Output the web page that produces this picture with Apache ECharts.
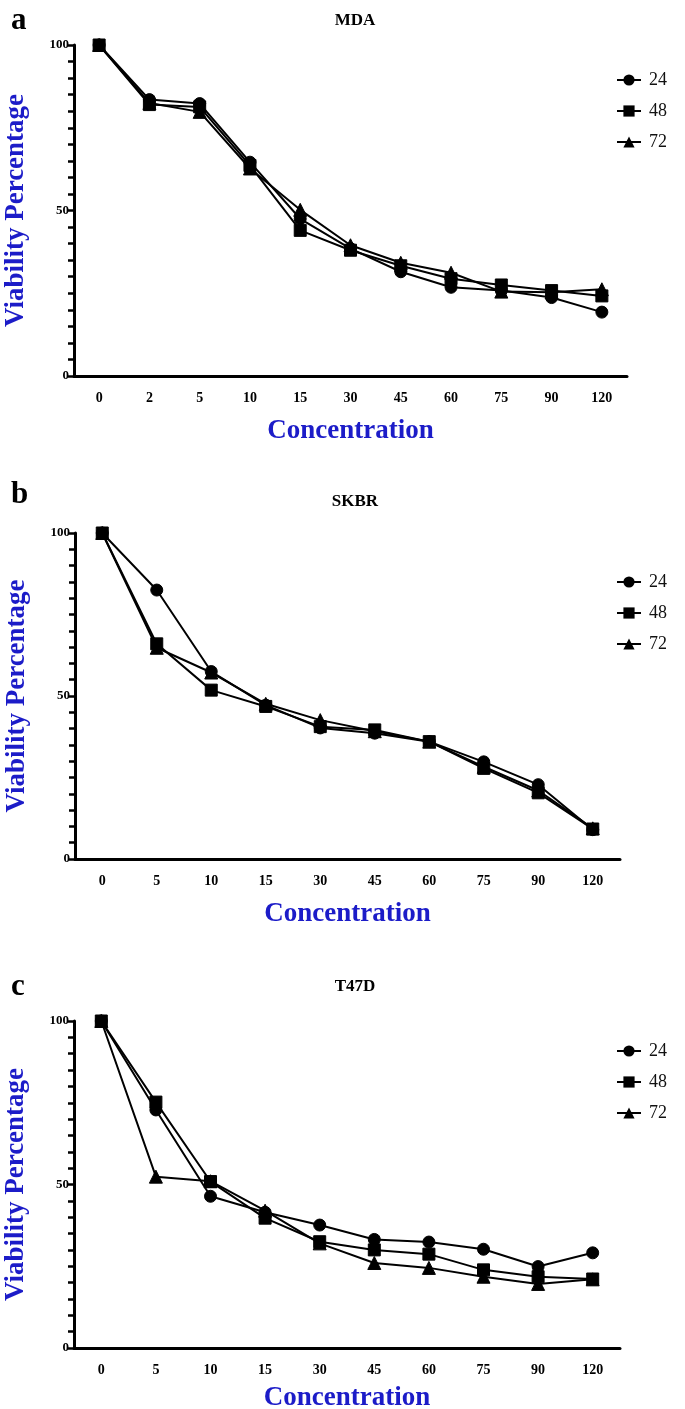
<!DOCTYPE html>
<html>
<head>
<meta charset="utf-8">
<script src="https://cdn.jsdelivr.net/npm/echarts@6/dist/echarts.min.js"></script>
<style>
html,body{margin:0;padding:0;background:#fff;}
#c{width:685px;height:1409px;}
</style>
</head>
<body>
<div id="c"></div>
<script>
// ---- data ----
const panelLetters = ['a', 'b', 'c'];
const panelTitles = ['MDA', 'SKBR', 'T47D'];
const seriesNames = ['24', '48', '72'];
const yTicks = [0, 50, 100];

const catsMDA = ['0', '2', '5', '10', '15', '30', '45', '60', '75', '90', '120'];
const mda24 = [100, 83.5, 82.3, 64.6, 47.5, 38.5, 31.5, 26.8, 25.8, 23.7, 19.3];
const mda48 = [100, 82.0, 81.3, 63.6, 44.0, 38.0, 33.3, 29.4, 27.5, 25.8, 24.2];
const mda72 = [100, 82.5, 79.8, 62.7, 50.2, 39.5, 34.2, 31.2, 25.5, 25.3, 26.2];

const catsSKBR = ['0', '5', '10', '15', '30', '45', '60', '75', '90', '120'];
const skbr24 = [100, 82.5, 57.5, 47.2, 40.2, 38.6, 36.0, 29.8, 22.8, 9.0];
const skbr48 = [100, 66.0, 51.8, 46.8, 40.6, 39.6, 36.0, 27.8, 20.3, 9.2];
const skbr72 = [100, 64.8, 57.2, 47.6, 42.6, 39.2, 36.0, 28.3, 21.0, 9.4];

const catsT47D = ['0', '5', '10', '15', '30', '45', '60', '75', '90', '120'];
const t47d24 = [100, 72.8, 46.4, 41.5, 37.6, 33.2, 32.4, 30.2, 24.9, 29.1];
const t47d48 = [100, 75.2, 50.9, 39.7, 32.5, 30.0, 28.7, 23.9, 21.8, 21.1];
const t47d72 = [100, 52.4, 51.0, 42.0, 32.0, 26.0, 24.5, 21.8, 19.6, 21.0];

// ---- layout ----
const panels = [
  {cats: catsMDA, data: [mda24, mda48, mda72], grid: {left: 74, width: 553, top: 45, height: 331}, legendTop: 66, titleTop: 0, nameTop: 7, xGap: 42},
  {cats: catsSKBR, data: [skbr24, skbr48, skbr72], grid: {left: 75, width: 545, top: 533, height: 326}, legendTop: 568, titleTop: 474, nameTop: 488, xGap: 42},
  {cats: catsT47D, data: [t47d24, t47d48, t47d72], grid: {left: 74, width: 546, top: 1021, height: 327}, legendTop: 1037, titleTop: 966, nameTop: 973, xGap: 37}
];
const symbols = ['circle', 'rect', 'triangle'];
const symSizes = [12, 12, 13];
const serif = '"Liberation Serif", "DejaVu Serif", serif';
const blue = '#1c1cc8';

const option = {
  animation: false,
  backgroundColor: '#fff',
  title: [], grid: [], xAxis: [], yAxis: [], series: [], legend: []
};

panels.forEach((p, i) => {
  option.title.push({
    text: panelLetters[i], left: 6, top: p.titleTop,
    textStyle: {fontFamily: serif, fontWeight: 'bold', fontSize: 31, color: '#000'}
  });
  option.title.push({
    text: panelTitles[i], left: 350, textAlign: 'center', top: p.nameTop,
    textStyle: {fontFamily: serif, fontWeight: 'bold', fontSize: 17, color: '#000'}
  });
  option.grid.push(Object.assign({containLabel: false, outerBoundsMode: 'none'}, p.grid));
  option.xAxis.push({
    type: 'category', gridIndex: i, data: p.cats, boundaryGap: true,
    name: 'Concentration', nameLocation: 'middle', nameGap: p.xGap,
    nameTextStyle: {fontFamily: serif, fontWeight: 'bold', fontSize: 27, color: blue},
    axisLine: {lineStyle: {color: '#000', width: 3}},
    axisTick: {alignWithLabel: true, length: 7, lineStyle: {color: '#000', width: 3}},
    axisLabel: {fontFamily: serif, fontWeight: 'bold', fontSize: 14, color: '#000', margin: 15},
    splitLine: {show: false}
  });
  option.yAxis.push({
    type: 'value', gridIndex: i, min: 0, max: 100, interval: 50,
    name: 'Viability Percentage', nameLocation: 'middle', nameGap: 44,
    nameTextStyle: {fontFamily: serif, fontWeight: 'bold', fontSize: 27, color: blue},
    axisLine: {show: true, lineStyle: {color: '#000', width: 3}},
    axisTick: {show: true, length: 6, lineStyle: {color: '#000', width: 2.5}},
    minorTick: {show: true, splitNumber: 10, length: 6, lineStyle: {color: '#000', width: 2.5}},
    axisLabel: {fontFamily: serif, fontWeight: 'bold', fontSize: 13, color: '#000', margin: 5,
      formatter: v => yTicks.indexOf(v) >= 0 ? String(v) : ''},
    splitLine: {show: false}
  });
  seriesNames.forEach((n, k) => {
    option.series.push({
      name: n, type: 'line', xAxisIndex: i, yAxisIndex: i, data: p.data[k],
      symbol: symbols[k], symbolSize: symSizes[k], showSymbol: true,
      lineStyle: {color: '#000', width: 2},
      itemStyle: {color: '#000', borderColor: '#000'},
      z: 3 + k
    });
  });
  option.legend.push({
    data: seriesNames, orient: 'vertical', left: 611, top: p.legendTop,
    itemWidth: 24, itemHeight: 14, itemGap: 13,
    textStyle: {fontFamily: serif, fontSize: 18, color: '#111', padding: [0, 0, 0, 3]}
  });
});

const chart = echarts.init(document.getElementById('c'), null, {renderer: 'canvas'});
chart.setOption(option);
</script>
</body>
</html>
